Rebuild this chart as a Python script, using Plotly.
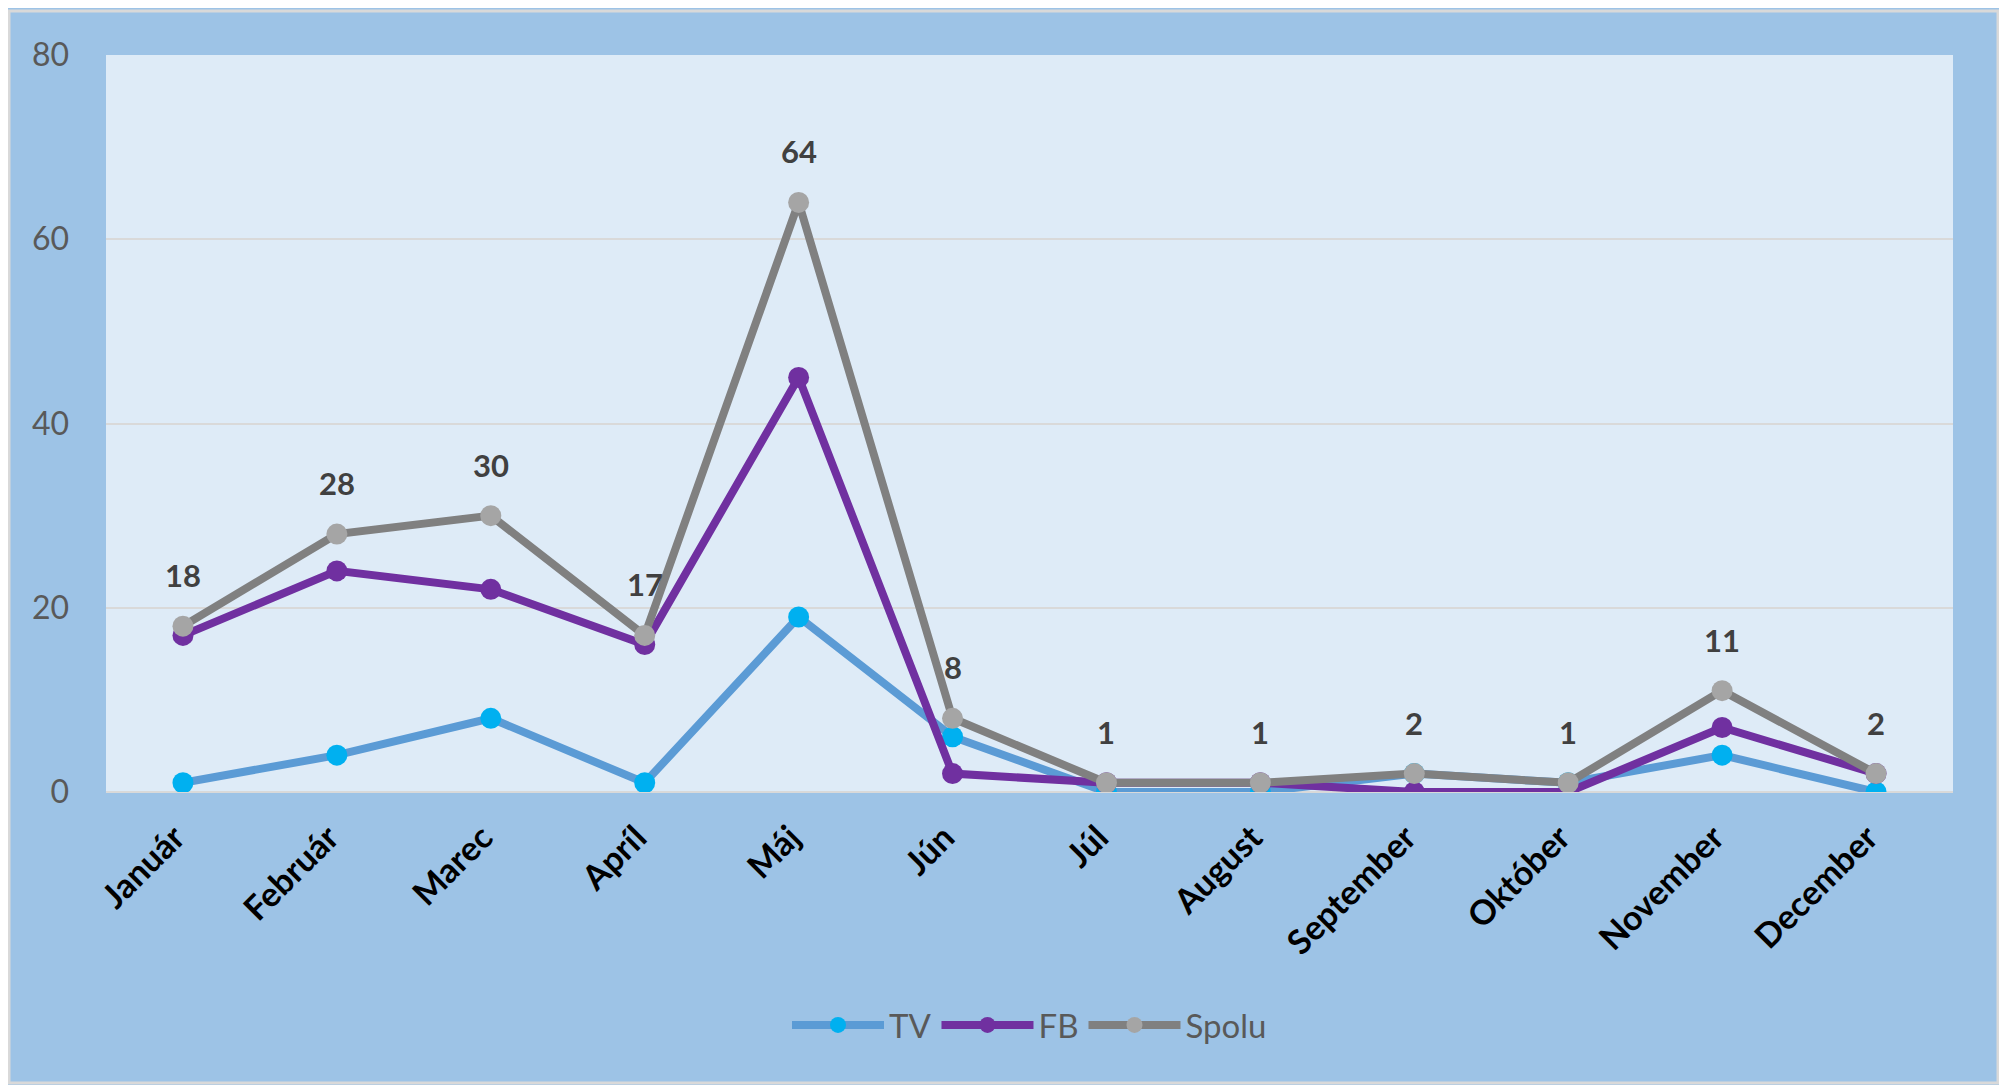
import plotly.graph_objects as go

months = ["Január", "Február", "Marec", "Apríl", "Máj", "Jún", "Júl", "August",
          "September", "Október", "November", "December"]
tv = [1, 4, 8, 1, 19, 6, 0, 0, 2, 1, 4, 0]
fb = [17, 24, 22, 16, 45, 2, 1, 1, 0, 0, 7, 2]
spolu = [18, 28, 30, 17, 64, 8, 1, 1, 2, 1, 11, 2]
y_ticks = [0, 20, 40, 60, 80]

# page has an 8px body margin; figure coordinates below are page - 8
W, H = 1993, 1077
L, R, T, B = 98, 1945, 47, 784
FONT = "Lato"

fig = go.Figure()
fig.add_trace(go.Scatter(x=months, y=tv, name="TV", mode="lines+markers",
                         line=dict(color="#5B9BD5", width=8),
                         marker=dict(color="#00B0F0", size=21)))
fig.add_trace(go.Scatter(x=months, y=fb, name="FB", mode="lines+markers",
                         line=dict(color="#7030A0", width=8),
                         marker=dict(color="#7030A0", size=21)))
fig.add_trace(go.Scatter(x=months, y=spolu, name="Spolu", mode="lines+markers",
                         line=dict(color="#808080", width=8),
                         marker=dict(color="#A5A5A5", size=21)))

for m, v in zip(months, spolu):
    fig.add_annotation(x=m, y=v, text=str(v), showarrow=False, yshift=51,
                       font=dict(family=FONT, size=31, color="#404040", weight="bold"))

def px_x(p):
    return (p - L) / (R - L)

def px_y(p):
    return (B - p) / (B - T)

# outer light-gray frame
fig.add_shape(type="rect", xref="paper", yref="paper", layer="above",
              x0=px_x(1), x1=px_x(1990), y0=px_y(1075), y1=px_y(3),
              fillcolor="rgba(0,0,0,0)", line=dict(color="#D9D9D9", width=3))

fig.update_layout(
    width=W, height=H,
    margin=dict(l=L, r=W - R, t=T, b=H - B),
    paper_bgcolor="#9DC3E6",
    plot_bgcolor="#DEEBF7",
    font=dict(family=FONT),
    showlegend=True,
    legend=dict(orientation="h", x=0.5, xanchor="center", y=px_y(1017), yanchor="middle",
                font=dict(family=FONT, size=33, color="#595959"),
                bgcolor="rgba(0,0,0,0)", itemwidth=92),
    xaxis=dict(type="category", range=[-0.5, 11.5], showgrid=False, zeroline=False,
               ticks="", tickangle=-45, showline=False,
               ticklabelstandoff=18, ticklabelshift=-8,
               tickfont=dict(family=FONT, size=34, color="black", weight="bold")),
    yaxis=dict(range=[0, 80], tickvals=y_ticks, showgrid=True, gridcolor="#D9D9D9",
               gridwidth=2, zeroline=True, zerolinecolor="#D9D9D9", zerolinewidth=2,
               ticks="", ticklabelstandoff=36,
               tickfont=dict(family=FONT, size=32, color="#595959")),
)

fig.write_html("out.html")
